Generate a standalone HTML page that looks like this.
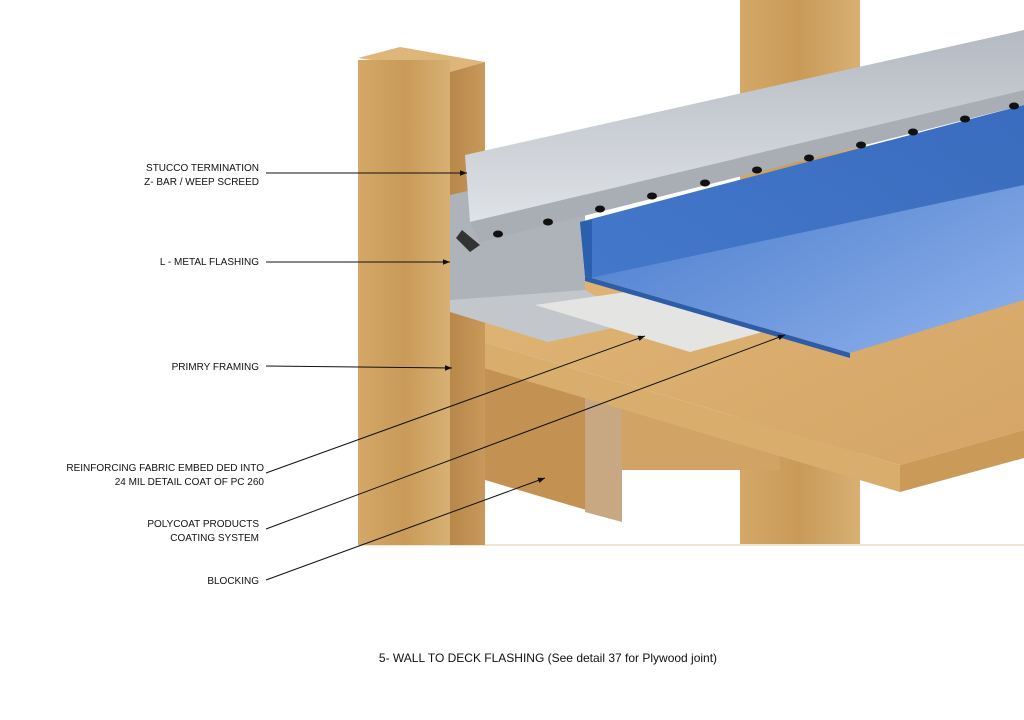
<!DOCTYPE html>
<html><head><meta charset="utf-8"><style>
html,body{margin:0;padding:0;background:#fff;width:1024px;height:720px;overflow:hidden}
svg{display:block}
text{font-family:"Liberation Sans",Arial,sans-serif;font-size:10px;fill:#111}
</style></head><body>
<svg width="1024" height="720" viewBox="0 0 1024 720">
<defs>
<linearGradient id="wood" x1="0" y1="0" x2="1" y2="0"><stop offset="0" stop-color="#d4a868"/><stop offset="0.5" stop-color="#c99a58"/><stop offset="1" stop-color="#d8b074"/></linearGradient>
<linearGradient id="woodD" x1="0" y1="0" x2="1" y2="0"><stop offset="0" stop-color="#b8874a"/><stop offset="1" stop-color="#c8995a"/></linearGradient>
<linearGradient id="deck" x1="0" y1="0" x2="1" y2="1"><stop offset="0" stop-color="#e2b878"/><stop offset="1" stop-color="#d4a566"/></linearGradient>
<linearGradient id="blue" x1="0" y1="0" x2="1" y2="1"><stop offset="0" stop-color="#3a6fc4"/><stop offset="1" stop-color="#8fb2ec"/></linearGradient>
<linearGradient id="blueV" x1="0" y1="0" x2="1" y2="0"><stop offset="0" stop-color="#3e74c8"/><stop offset="1" stop-color="#2f63b8"/></linearGradient>
<linearGradient id="metal" x1="0" y1="0" x2="0" y2="1"><stop offset="0" stop-color="#b4bac2"/><stop offset="1" stop-color="#dfe2e6"/></linearGradient>
<marker id="ah" viewBox="0 0 10 10" refX="10" refY="5" markerWidth="7" markerHeight="7" orient="auto"><path d="M0,1 L10,5 L0,9 z" fill="#111"/></marker>
</defs>
<rect x="740" y="0" width="120" height="545" fill="url(#wood)"/>
<line x1="358" y1="545" x2="1024" y2="545" stroke="#f0e4d4" stroke-width="2"/>
<polygon points="485,360 620,400 620,520 485,480" fill="#c39152"/>
<polygon points="620,400 780,450 780,470 620,470" fill="#d1a466"/>
<polygon points="450,355 485,365 485,475 450,465" fill="#c6a57e"/>
<polygon points="585,390 622,400 622,522 585,512" fill="#c8a882"/>
<polygon points="450,312 1024,180 1024,430 900,465 450,332" fill="url(#deck)"/>
<polygon points="450,332 900,465 900,492 450,358" fill="#d9ad6b"/>
<polygon points="900,465 1024,430 1024,458 900,492" fill="#c99a58"/>
<polygon points="358,58 400,47 485,62 450,72" fill="#deb679"/>
<rect x="358" y="60" width="92" height="485" fill="url(#wood)"/>
<polygon points="450,72 485,62 485,545 450,545" fill="url(#woodD)"/>
<polygon points="450,195 585,165 585,300 450,300" fill="#aeb3ba"/>
<polygon points="450,300 585,290 640,322 548,342 450,312" fill="#c3c7cc"/>
<polygon points="535,305 640,290 770,330 690,352" fill="#e4e4e2"/>
<polygon points="580,222 1024,105 1024,300 850,353 585,276" fill="url(#blue)"/>
<polygon points="580,222 1024,105 1024,185 590,278" fill="url(#blueV)" opacity="0.8"/>
<polygon points="580,222 592,220 592,278 585,276" fill="#2c5fae"/>
<polygon points="585,276 850,353 850,358 585,281" fill="#2d5ca8"/>
<polygon points="465,155 1024,30 1024,90 470,222" fill="url(#metal)"/>
<polygon points="470,222 1024,90 1024,105 480,242" fill="#a9aeb5"/>
<polygon points="462,230 480,245 470,252 456,238" fill="#333"/>
<g fill="#111">
<ellipse cx="498" cy="234" rx="5" ry="3.5"/><ellipse cx="548" cy="222" rx="5" ry="3.5"/><ellipse cx="600" cy="209" rx="5" ry="3.5"/><ellipse cx="652" cy="196" rx="5" ry="3.5"/><ellipse cx="705" cy="183" rx="5" ry="3.5"/><ellipse cx="757" cy="170" rx="5" ry="3.5"/><ellipse cx="809" cy="158" rx="5" ry="3.5"/><ellipse cx="861" cy="145" rx="5" ry="3.5"/><ellipse cx="913" cy="132" rx="5" ry="3.5"/><ellipse cx="965" cy="119" rx="5" ry="3.5"/><ellipse cx="1014" cy="106" rx="5" ry="3.5"/>
</g>
<g stroke="#111" stroke-width="1" marker-end="url(#ah)">
<line x1="266" y1="173" x2="467" y2="173"/>
<line x1="266" y1="262" x2="450" y2="262"/>
<line x1="266" y1="366" x2="452" y2="368"/>
<line x1="266" y1="473" x2="645" y2="336"/>
<line x1="266" y1="529" x2="785" y2="335"/>
<line x1="266" y1="580" x2="545" y2="478"/>
</g>
<text x="259" y="171" text-anchor="end">STUCCO TERMINATION</text>
<text x="259" y="185" text-anchor="end">Z- BAR / WEEP SCREED</text>
<text x="259" y="265" text-anchor="end">L - METAL FLASHING</text>
<text x="259" y="370" text-anchor="end">PRIMRY FRAMING</text>
<text x="264" y="471" text-anchor="end">REINFORCING FABRIC EMBED DED INTO</text>
<text x="264" y="485" text-anchor="end">24 MIL DETAIL COAT OF PC 260</text>
<text x="259" y="527" text-anchor="end">POLYCOAT PRODUCTS</text>
<text x="259" y="541" text-anchor="end">COATING SYSTEM</text>
<text x="259" y="584" text-anchor="end">BLOCKING</text>
<text x="548" y="662" text-anchor="middle" style="font-size:12px">5- WALL TO DECK FLASHING (See detail 37 for Plywood joint)</text>
</svg>
</body></html>
